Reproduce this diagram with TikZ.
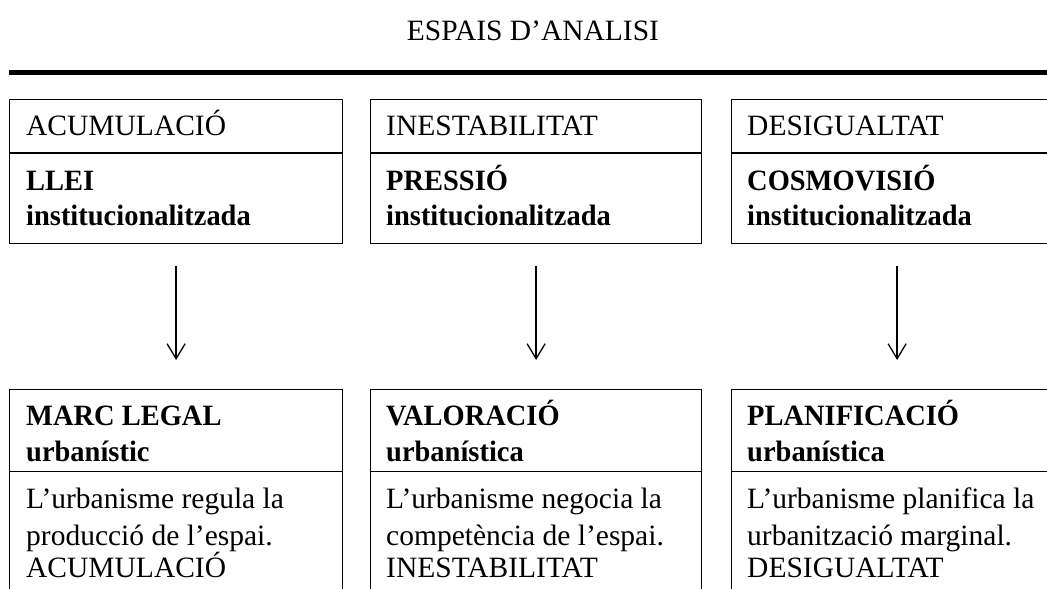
\documentclass[tikz,border=0pt]{standalone}
\usepackage{fontspec}
\setmainfont{Liberation Serif}
\newfontfamily\narrowserif[FakeStretch=0.965]{Liberation Serif}
\usetikzlibrary{arrows.meta}
\begin{document}
\begin{tikzpicture}[x=1pt,y=-1pt,
  box/.style={draw, line width=1.2pt, rectangle, inner sep=0pt, anchor=north west},
  txt/.style={anchor=base west, inner sep=0pt, font=\fontsize{29.5}{36}\selectfont},
  btxt/.style={anchor=base west, inner sep=0pt, font=\fontsize{29.5}{36}\selectfont\narrowserif\bfseries},
  arr/.style={-{Straight Barb[length=15pt,width=18pt,line width=1.3pt]}, line width=1.3pt}]
\useasboundingbox (0,0) rectangle (1047,589);
% title and rule
\node[anchor=base, inner sep=0pt, font=\fontsize{29.5}{36}\selectfont] (title) at (533,40) {ESPAIS D’ANALISI};
\coordinate (ruleL) at (9,72);
\coordinate (ruleR) at (1050,72);
\draw[line width=5pt] (ruleL) -- (ruleR);
% column 1
\node[box, minimum width=333pt, minimum height=53pt] (h1) at (9,99) {};
\node[box, minimum width=333pt, minimum height=90.5pt] (b1) at (9,152.5) {};
\node[box, minimum width=333pt, minimum height=82pt] (t1) at (9,389) {};
\node[box, minimum width=333pt, minimum height=160pt] (d1) at (9,471) {};
\node[txt]  (h1a) at (26,135) {ACUMULACIÓ};
\node[btxt] (b1a) at (26,190.7) {LLEI};
\node[btxt] (b1b) at (26,225) {institucionalitzada};
\node[btxt] (t1a) at (26,425) {MARC LEGAL};
\node[btxt] (t1b) at (26,461.7) {urbanístic};
\node[txt]  (d1a) at (26,508) {L’urbanisme regula la};
\node[txt]  (d1b) at (26,545) {producció de l’espai.};
\node[txt]  (d1c) at (26,577) {ACUMULACIÓ};
% column 2
\node[box, minimum width=331pt, minimum height=53pt] (h2) at (370,99) {};
\node[box, minimum width=331pt, minimum height=90.5pt] (b2) at (370,152.5) {};
\node[box, minimum width=331pt, minimum height=82pt] (t2) at (370,389) {};
\node[box, minimum width=331pt, minimum height=160pt] (d2) at (370,471) {};
\node[txt]  (h2a) at (386,135) {INESTABILITAT};
\node[btxt] (b2a) at (386,190.7) {PRESSIÓ};
\node[btxt] (b2b) at (386,225) {institucionalitzada};
\node[btxt] (t2a) at (386,425) {VALORACIÓ};
\node[btxt] (t2b) at (386,461.7) {urbanística};
\node[txt]  (d2a) at (386,508) {L’urbanisme negocia la};
\node[txt]  (d2b) at (386,545) {competència de l’espai.};
\node[txt]  (d2c) at (386,577) {INESTABILITAT};
% column 3
\node[box, minimum width=331pt, minimum height=53pt] (h3) at (731,99) {};
\node[box, minimum width=331pt, minimum height=90.5pt] (b3) at (731,152.5) {};
\node[box, minimum width=331pt, minimum height=82pt] (t3) at (731,389) {};
\node[box, minimum width=331pt, minimum height=160pt] (d3) at (731,471) {};
\node[txt]  (h3a) at (747,135) {DESIGUALTAT};
\node[btxt] (b3a) at (747,190.7) {COSMOVISIÓ};
\node[btxt] (b3b) at (747,225) {institucionalitzada};
\node[btxt] (t3a) at (747,425) {PLANIFICACIÓ};
\node[btxt] (t3b) at (747,461.7) {urbanística};
\node[txt]  (d3a) at (747,508) {L’urbanisme planifica la};
\node[txt]  (d3b) at (747,545) {urbanització marginal.};
\node[txt]  (d3c) at (747,577) {DESIGUALTAT};
% arrows
\draw[arr] ([yshift=-22pt]b1.south) -- ([yshift=29pt]t1.north);
\draw[arr] ([yshift=-22pt]b2.south) -- ([yshift=29pt]t2.north);
\draw[arr] ([yshift=-22pt]b3.south) -- ([yshift=29pt]t3.north);
\end{tikzpicture}
\end{document}
